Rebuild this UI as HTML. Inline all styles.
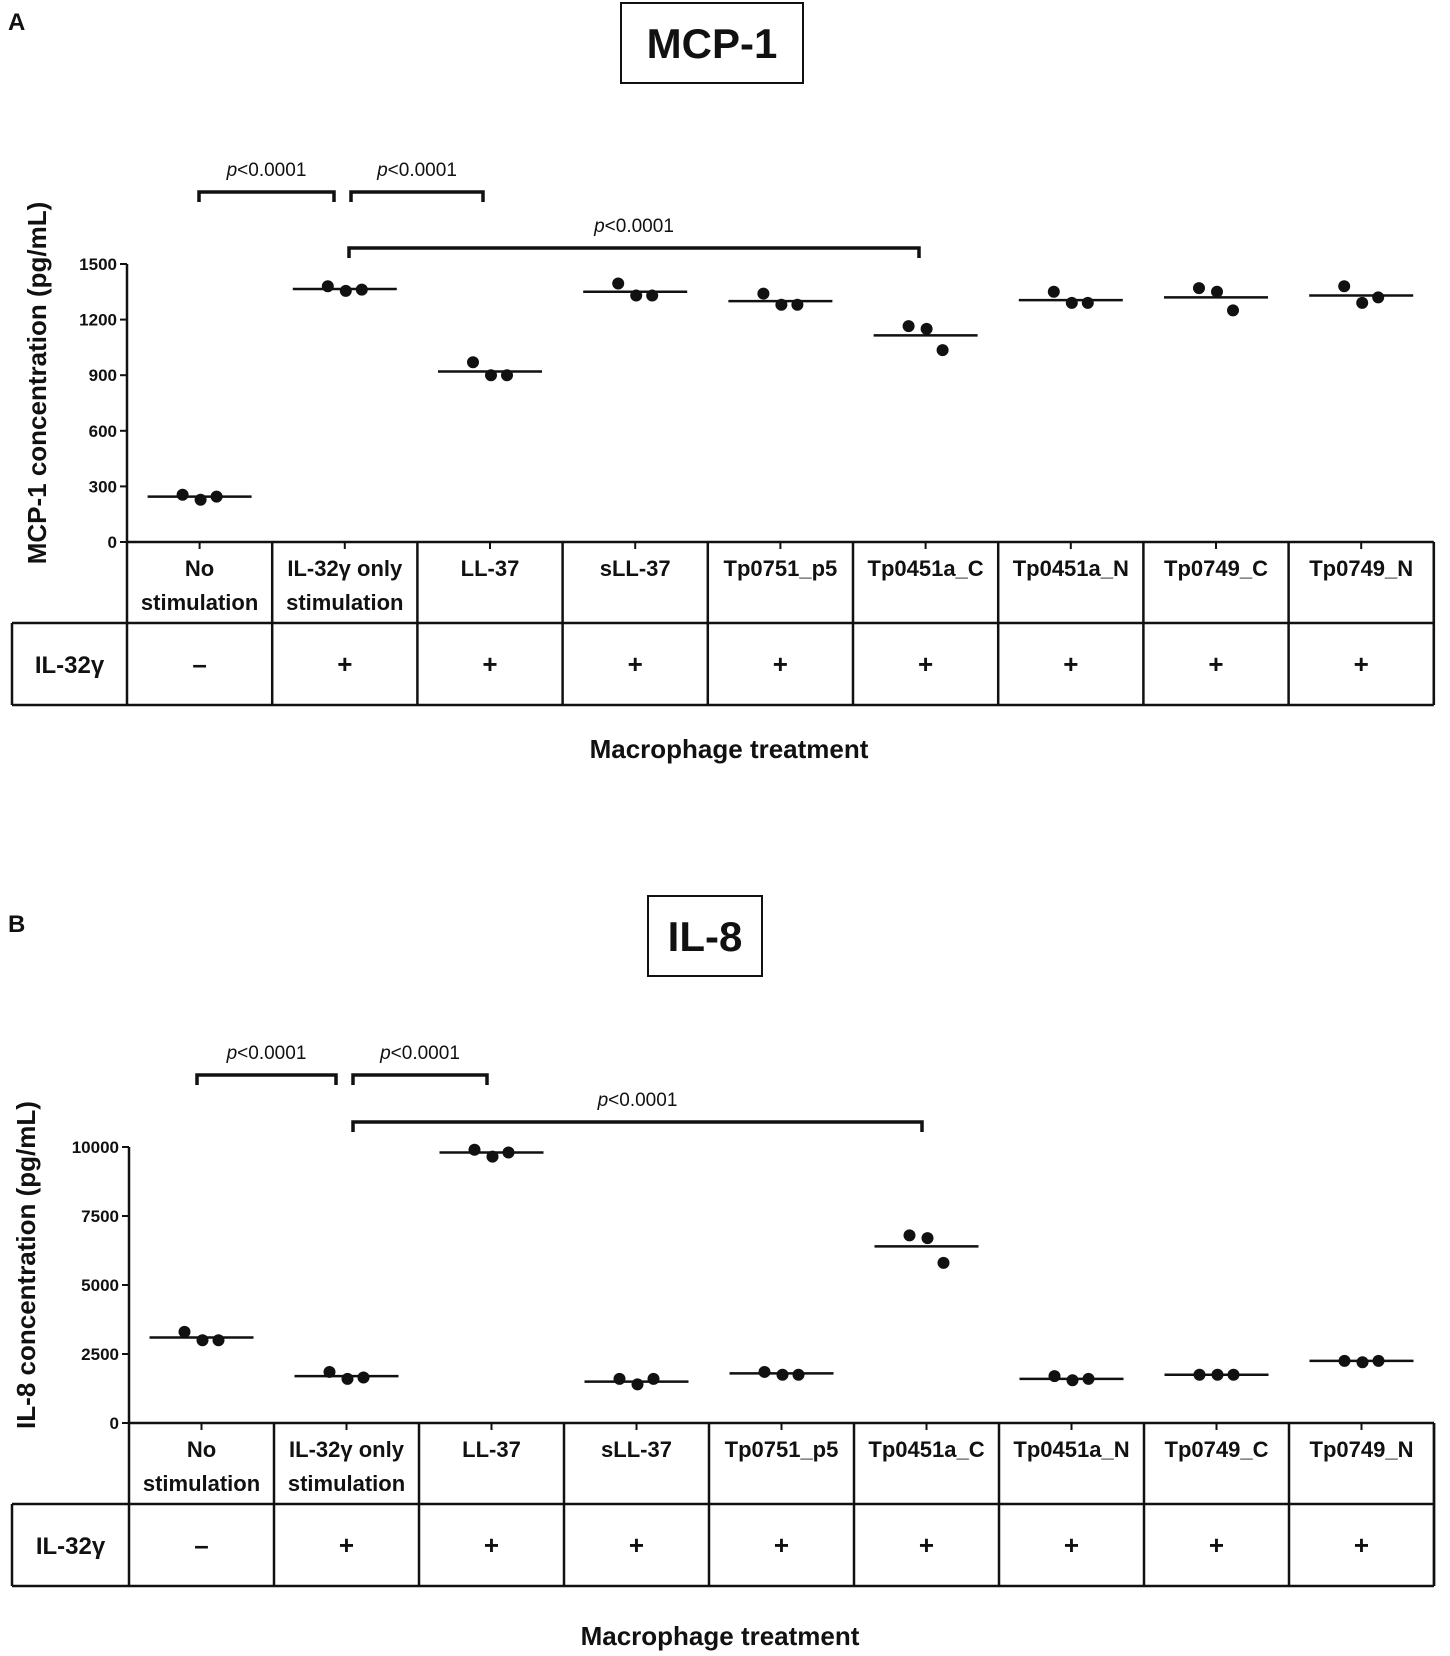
<!DOCTYPE html>
<html><head><meta charset="utf-8"><style>
html,body{margin:0;padding:0;background:#fff}
svg{display:block}
text{font-family:"Liberation Sans",sans-serif;fill:#111}
</style></head><body>
<svg id="fig" width="1450" height="1656" viewBox="0 0 1450 1656" xmlns="http://www.w3.org/2000/svg"></svg>
<script>
const categories = ["No|stimulation","IL-32γ only|stimulation","LL-37","sLL-37","Tp0751_p5","Tp0451a_C","Tp0451a_N","Tp0749_C","Tp0749_N"];
const il32Signs = ["–","+","+","+","+","+","+","+","+"];
const mcpMeans = [245,1365,920,1350,1300,1115,1305,1320,1330];
const mcpPoints = [[255,228,245],[1380,1355,1362],[970,900,900],[1395,1330,1330],[1340,1280,1280],[1165,1150,1035],[1350,1290,1290],[1370,1350,1250],[1380,1290,1320]];
const mcpTicks = [0,300,600,900,1200,1500];
const il8Means = [3100,1700,9800,1500,1800,6400,1600,1750,2250];
const il8Points = [[3300,3000,3000],[1850,1600,1650],[9900,9650,9800],[1600,1400,1600],[1850,1750,1750],[6800,6700,5800],[1700,1550,1600],[1750,1750,1750],[2250,2200,2250]];
const il8Ticks = [0,2500,5000,7500,10000];

const NS="http://www.w3.org/2000/svg";
const svg=document.getElementById('fig');
function mk(tag,attrs,parent,txt){const e=document.createElementNS(NS,tag);for(const k in attrs)e.setAttribute(k,attrs[k]);if(txt!==undefined)e.textContent=txt;(parent||svg).appendChild(e);return e;}

function panel(o){
  const g=mk('g',{});
  
  
  const lab=mk('text',{x:8,y:o.labelY,'font-size':24,'font-weight':'bold'},g,o.letter);
  
  
  const tb=mk('rect',{x:o.boxX,y:o.boxY,width:o.boxW,height:o.boxH,fill:'#fff',stroke:'#111','stroke-width':2},g);
  
  
  const tt=mk('text',{x:o.boxX+o.boxW/2,y:o.boxY+o.boxH/2+15,'font-size':42,'font-weight':'bold','text-anchor':'middle'},g,o.title);
  
  
  const L=o.left,cw=o.cw,y0=o.y0,yTop=o.yTop,max=o.max;
  const ys=v=>y0-(v/max)*(y0-yTop);
  const xc=i=>L+cw*(i+0.5);
  const ax=mk('line',{x1:L,y1:y0,x2:L,y2:yTop,stroke:'#111','stroke-width':2.5},g);
  
  
  o.ticks.forEach(t=>{
    mk('line',{x1:L-7,y1:ys(t),x2:L,y2:ys(t),stroke:'#111','stroke-width':2},g);
    const tl=mk('text',{x:L-10,y:ys(t)+6,'font-size':17,'font-weight':'bold','text-anchor':'end'},g,t);
    
    
  });
  const yt=mk('text',{x:o.ytX,y:(y0+yTop)/2-20,'font-size':26,'font-weight':'bold','text-anchor':'middle',transform:`rotate(-90 ${o.ytX} ${(y0+yTop)/2-20})`},g,o.yTitle);
  
  
  const tl=12,tr=L+cw*9,r1=o.tRow,r2=o.tBot;
  mk('line',{x1:L,y1:y0,x2:tr,y2:y0,stroke:'#111','stroke-width':2.5},g);
  mk('line',{x1:tr,y1:y0,x2:tr,y2:r2,stroke:'#111','stroke-width':2.5},g);
  mk('line',{x1:tl,y1:r1,x2:tr,y2:r1,stroke:'#111','stroke-width':2.5},g);
  mk('line',{x1:tl,y1:r2,x2:tr,y2:r2,stroke:'#111','stroke-width':2.5},g);
  mk('line',{x1:tl,y1:r1,x2:tl,y2:r2,stroke:'#111','stroke-width':2.5},g);
  for(let i=0;i<=9;i++)mk('line',{x1:L+cw*i,y1:y0,x2:L+cw*i,y2:r2,stroke:'#111','stroke-width':2.5},g);
  const rl=mk('text',{x:(tl+L)/2,y:(r1+r2)/2+9,'font-size':24,'font-weight':'bold','text-anchor':'middle'},g,'IL-32γ');
  
  
  categories.forEach((c,i)=>{
    mk('line',{x1:xc(i),y1:y0,x2:xc(i),y2:y0+7,stroke:'#111','stroke-width':2},g);
    const parts=c.split('|');
    parts.forEach((p,j)=>{
      const t=mk('text',{x:xc(i),y:y0+34+j*34,'font-size':22,'font-weight':'bold','text-anchor':'middle'},g,p);
      if(p.length>11){t.setAttribute('textLength',cw-8);t.setAttribute('lengthAdjust','spacingAndGlyphs');}
      
      
    });
    const s=mk('text',{x:xc(i),y:(r1+r2)/2+9,'font-size':26,'font-weight':'bold','text-anchor':'middle'},g,il32Signs[i]);
    
    
    const m=mk('line',{x1:xc(i)-52,y1:ys(o.means[i]),x2:xc(i)+52,y2:ys(o.means[i]),stroke:'#111','stroke-width':2.5},g);
    
    
    const offs=[-17,1,17];
    o.points[i].forEach((v,k)=>{
      const d=mk('circle',{cx:xc(i)+offs[k],cy:ys(v),r:6,fill:'#111'},g);
      
      
    });
  });
  o.brackets.forEach(b=>{
    const p=mk('path',{d:`M${b[0]} ${b[2]+10}V${b[2]}H${b[1]}V${b[2]+10}`,fill:'none',stroke:'#111','stroke-width':3.5},g);
    
    
    const t=mk('text',{x:(b[0]+b[1])/2,y:b[2]-16,'font-size':19,'text-anchor':'middle'},g);
    
    
    mk('tspan',{'font-style':'italic'},t,'p');
    mk('tspan',{},t,'<0.0001');
  });
  const xt=mk('text',{x:o.xtX,y:o.xtY,'font-size':26,'font-weight':'bold','text-anchor':'middle'},g,'Macrophage treatment');
  
  
}
panel({id:'mcp1',letter:'A',labelY:30,title:'MCP-1',boxX:621,boxY:3,boxW:182,boxH:80,left:127,cw:145.2,y0:542,yTop:264,max:1500,ticks:mcpTicks,means:mcpMeans,points:mcpPoints,yTitle:'MCP-1 concentration (pg/mL)',ytX:46,tRow:623,tBot:705,brackets:[[199,334,192],[351,483,192],[349,919,248]],xtX:729,xtY:758});
panel({id:'il8',letter:'B',labelY:932,title:'IL-8',boxX:648,boxY:896,boxW:114,boxH:80,left:129,cw:145,y0:1423,yTop:1147,max:10000,ticks:il8Ticks,means:il8Means,points:il8Points,yTitle:'IL-8 concentration (pg/mL)',ytX:35,tRow:1504,tBot:1586,brackets:[[197,336,1075],[353,487,1075],[353,922,1122]],xtX:720,xtY:1645});
</script>
</body></html>
